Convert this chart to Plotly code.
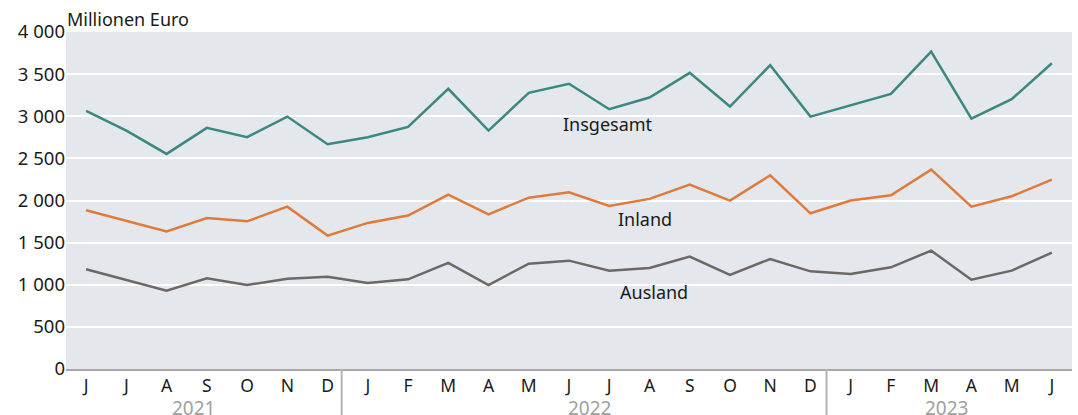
import plotly.graph_objects as go

months = ["J", "J", "A", "S", "O", "N", "D",
          "J", "F", "M", "A", "M", "J", "J", "A", "S", "O", "N", "D",
          "J", "F", "M", "A", "M", "J"]
insgesamt = [3064, 2830, 2553, 2862, 2751, 2996, 2668,
             2751, 2874, 3325, 2830, 3278, 3385, 3083, 3222, 3515, 3115, 3606, 2996,
             3131, 3266, 3768, 2973, 3202, 3629]
inland = [1884, 1761, 1634, 1793, 1753, 1927, 1583,
          1734, 1821, 2070, 1836, 2034, 2097, 1936, 2019, 2189, 1999, 2299, 1848,
          1999, 2062, 2367, 1927, 2050, 2248]
ausland = [1183, 1057, 930, 1076, 997, 1072, 1096,
           1021, 1064, 1259, 997, 1250, 1286, 1167, 1199, 1334, 1116, 1306, 1159,
           1128, 1207, 1405, 1060, 1167, 1381]
years = ["2021", "2022", "2023"]
year_pos = [2.67, 12.5, 21.37]
year_breaks = [6.35, 18.4]
y_ticks = [0, 500, 1000, 1500, 2000, 2500, 3000, 3500, 4000]

x = list(range(len(months)))
FONT = "Noto Sans"

fig = go.Figure()
series = [
    ("Insgesamt", insgesamt, "#3a8880", 12.97, 2905),
    ("Inland", inland, "#e07a3a", 13.9, 1785),
    ("Ausland", ausland, "#6c6866", 14.1, 912),
]
for name, vals, col, lx, ly in series:
    fig.add_trace(go.Scatter(x=x, y=vals, mode="lines", name=name,
                             line=dict(color=col, width=2.5),
                             hoverinfo="skip"))
    fig.add_annotation(x=lx, y=ly, xref="x", yref="y", text=name,
                       showarrow=False, font=dict(family=FONT, size=18, color="#1a1a1a"),
                       xanchor="center", yanchor="middle")

for yr, pos in zip(years, year_pos):
    fig.add_annotation(x=pos, y=0, xref="x", yref="paper", text=yr,
                       showarrow=False, yanchor="middle", yshift=-39,
                       font=dict(family=FONT, size=19, color="#a0a0a0"))

for b in year_breaks:
    fig.add_shape(type="line", xref="x", yref="paper", x0=b, x1=b,
                  y0=0, y1=-0.14, line=dict(color="#b4b4b4", width=2))

fig.add_annotation(x=0, y=1, xref="paper", yref="paper", text="Millionen Euro",
                   showarrow=False, xanchor="left", yanchor="bottom", xshift=-1, yshift=-1,
                   font=dict(family=FONT, size=18, color="#1a1a1a"))

fig.update_layout(
    width=1078, height=415,
    margin=dict(l=66, r=6, t=32, b=46),
    paper_bgcolor="white", plot_bgcolor="#e4e8ec",
    showlegend=False,
    separators=", ",
    font=dict(family=FONT, size=17, color="#1a1a1a"),
    xaxis=dict(range=[-0.5, 24.5], tickmode="array", tickvals=x, ticktext=months,
               showgrid=False, zeroline=False, showline=True, linecolor="#a8a8a8",
               linewidth=2, ticks="", tickfont=dict(family=FONT, size=17.5, color="#1a1a1a"),
               automargin=False, fixedrange=True),
    yaxis=dict(range=[0, 4000], tickmode="array", tickvals=y_ticks,
               showgrid=True, gridcolor="white", gridwidth=2, zeroline=False,
               showline=False, ticks="", tickformat=",d",
               tickfont=dict(family=FONT, size=18.5, color="#1a1a1a"),
               automargin=False, fixedrange=True),
)

fig.write_html("out.html", config={"displayModeBar": False},
               post_script="document.body.style.margin='0px';document.body.style.overflow='hidden';")
